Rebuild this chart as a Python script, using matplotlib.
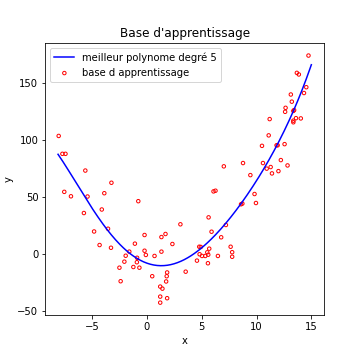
import matplotlib
matplotlib.use("Agg")
import matplotlib.pyplot as plt
import numpy as np

# points of the training base
x_app = [-8.04, -7.70, -7.42, -5.61, -3.23, -7.53, -6.92, -5.41, -3.88, -0.78,
         -5.74, -4.11, -3.54, -4.81, -4.31, -3.27, -1.09, -1.60, -1.93, -0.89,
         -2.05, -0.91, -2.50, -1.23, -0.68, -2.39, -0.21, 1.70, 1.33, 2.33,
         -0.21, 1.33, -0.09, 0.70, 0.49, 1.85, 1.81, 1.76, 1.22, 1.42,
         1.22, 1.85, 1.22, 3.54, 3.06, 4.57, 4.78, 4.92, 4.81, 5.03,
         5.33, 5.60, 5.51, 5.69, 5.57, 6.48, 5.90, 5.63, 6.08, 6.26,
         6.78, 7.21, 7.64, 7.78, 7.78, 7.02, 8.77, 8.59, 8.71, 9.44,
         9.82, 9.95, 10.59, 10.93, 11.29, 11.41, 12.00, 12.22, 12.83, 10.50,
         11.83, 11.93, 12.56, 11.11, 11.20, 13.36, 13.36, 13.60, 14.04, 13.43,
         13.36, 12.65, 12.61, 13.22, 13.13, 14.33, 14.54, 13.68, 13.86, 14.74]
y_app = [103.4, 87.7, 87.7, 73.0, 62.3, 54.3, 50.4, 50.2, 53.1, 46.1,
         35.7, 38.8, 21.9, 19.5, 7.6, 5.2, 8.8, 1.8, -1.8, -3.6,
         -7.0, -7.5, -12.3, -11.7, -12.3, -24.2, 16.4, 17.3, 14.6, 8.5,
         2.6, 1.8, -1.1, -2.0, -19.8, -16.5, -19.8, -24.4, -28.9, -30.7,
         -37.7, -39.1, -43.0, -15.8, 25.8, -6.1, 6.1, 5.9, -0.5, -2.0,
         -2.0, -0.9, 1.2, 4.4, -8.4, -2.0, 19.3, 31.9, 54.7, 55.3,
         14.4, 25.2, 6.1, 1.3, -2.7, 76.7, 79.6, 43.4, 44.0, 69.0,
         52.4, 44.5, 79.6, 74.7, 76.1, 70.5, 72.5, 82.2, 77.5, 94.7,
         95.2, 95.2, 96.2, 103.9, 118.2, 116.8, 115.4, 119.0, 118.8, 126.1,
         125.4, 128.1, 124.6, 133.5, 139.8, 141.1, 146.2, 158.8, 157.4, 174.0]

x_app = np.array(x_app)
y_app = np.array(y_app)

# best polynomial of degree 5 fitted on the base
coefs = np.polyfit(x_app, y_app, 5)
xx = np.linspace(-8.1, 15, 300)
yy = np.polyval(coefs, xx)

fig = plt.figure(figsize=(5, 5), dpi=72)
ax = fig.add_subplot(111)
fig.subplots_adjust(left=0.126, right=0.9, top=0.88, bottom=0.125)

ax.plot(xx, yy, color="b", label="meilleur polynome degré 5")
ax.scatter(x_app, y_app, s=12, facecolors="none", edgecolors="r",
           linewidths=1, label="base d apprentissage")

ax.set_title("Base d'apprentissage")
ax.set_xlabel("x")
ax.set_ylabel("y")
ax.legend(loc="upper left")

fig.savefig("out.png", dpi=72)
